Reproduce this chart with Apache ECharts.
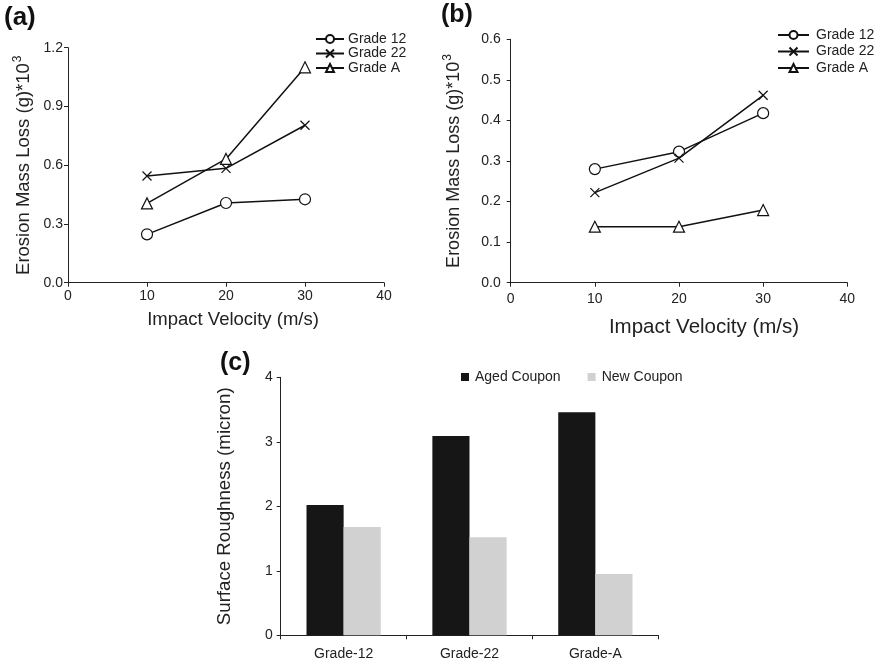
<!DOCTYPE html>
<html>
<head>
<meta charset="utf-8">
<script src="https://cdn.jsdelivr.net/npm/echarts@6/dist/echarts.min.js"></script>
<style>html,body{margin:0;padding:0;background:#fff}#c{width:882px;height:664px}</style>
</head>
<body>
<div id="c"></div>
<script>
// ---- data ----
var velocities = [10, 20, 30];
var seriesNames = ['Grade 12', 'Grade 22', 'Grade A'];
var lossA_grade12 = [0.247, 0.407, 0.426];
var lossA_grade22 = [0.545, 0.584, 0.804];
var lossA_gradeA = [0.405, 0.632, 1.10];
var lossB_grade12 = [0.280, 0.323, 0.418];
var lossB_grade22 = [0.222, 0.307, 0.462];
var lossB_gradeA = [0.138, 0.138, 0.179];
var couponCategories = ['Grade-12', 'Grade-22', 'Grade-A'];
var agedCoupon = [2.02, 3.09, 3.46];
var newCoupon = [1.68, 1.52, 0.95];
var barNames = ['Aged Coupon', 'New Coupon'];

var FONT = '"Liberation Sans", Arial, Helvetica, sans-serif';
var TXT = '#222';
var AX = '#222';

function pairs(xs, ys) { return xs.map(function (x, i) { return [x, ys[i]]; }); }

var symbols = {
  'Grade 12': { symbol: 'circle', size: 11 },
  'Grade 22': { symbol: 'path://M0,0L10,10M0,10L10,0', size: 9 },
  'Grade A': { symbol: 'triangle', size: 11 }
};

function lineSeries(name, data, idx) {
  return {
    type: 'line', name: name, xAxisIndex: idx, yAxisIndex: idx,
    data: data,
    symbol: symbols[name].symbol, symbolSize: symbols[name].size,
    showAllSymbol: true,
    lineStyle: { color: '#111', width: 1.5 },
    itemStyle: { color: '#fff', borderColor: '#111', borderWidth: 1.2 },
    emphasis: { disabled: true },
    animation: false, z: 3
  };
}

function valueXAxis(idx, nameSize, nameGap, padLeft, labelMargin) {
  return {
    type: 'value', gridIndex: idx, min: 0, max: 40, interval: 10,
    name: 'Impact Velocity (m/s)', nameLocation: 'middle', nameGap: nameGap,
    nameTextStyle: { fontSize: nameSize, color: TXT, fontFamily: FONT, padding: [0, 0, 0, padLeft] },
    axisLine: { show: true, lineStyle: { color: AX, width: 1 } },
    axisTick: { show: true, inside: false, length: 4, lineStyle: { color: AX } },
    axisLabel: { fontSize: 14, color: TXT, fontFamily: FONT, margin: labelMargin },
    splitLine: { show: false }
  };
}

function valueYAxis(idx, max, interval, nameSize, nameGap, labelMargin) {
  return {
    type: 'value', gridIndex: idx, min: 0, max: max, interval: interval,
    name: '{m|Erosion Mass Loss (g)*10}{s|3}', nameLocation: 'middle', nameGap: nameGap,
    nameTextStyle: {
      color: TXT, fontFamily: FONT,
      rich: {
        m: { fontSize: nameSize, color: TXT, fontFamily: FONT, verticalAlign: 'bottom' },
        s: { fontSize: 12, color: TXT, fontFamily: FONT, verticalAlign: 'bottom', padding: [0, 0, 9, 1] }
      }
    },
    axisLine: { show: true, lineStyle: { color: AX, width: 1 } },
    axisTick: { show: true, inside: false, length: 4, lineStyle: { color: AX } },
    axisLabel: { fontSize: 14, color: TXT, fontFamily: FONT, margin: labelMargin,
      formatter: function (v) { return v.toFixed(1); } },
    splitLine: { show: false }
  };
}

var option = {
  backgroundColor: '#fff',
  animation: false,
  textStyle: { fontFamily: FONT },
  grid: [
    { left: 68, top: 47.7, width: 316, height: 235 },
    { left: 510.7, top: 39.3, width: 336.6, height: 243.4 },
    { left: 280.7, top: 377.3, width: 377.6, height: 258 }
  ],
  xAxis: [
    valueXAxis(0, 18.5, 28, 14, 6),
    valueXAxis(1, 20.5, 34, 50, 9),
    {
      type: 'category', gridIndex: 2, data: couponCategories,
      axisLine: { show: true, lineStyle: { color: AX, width: 1 } },
      axisTick: { show: true, inside: false, length: 4, alignWithLabel: false, lineStyle: { color: AX } },
      axisLabel: { fontSize: 14, color: TXT, fontFamily: FONT, margin: 12 },
      splitLine: { show: false }
    }
  ],
  yAxis: [
    valueYAxis(0, 1.2, 0.3, 18.5, 35, 5),
    valueYAxis(1, 0.6, 0.1, 18, 48, 10),
    {
      type: 'value', gridIndex: 2, min: 0, max: 4, interval: 1,
      name: 'Surface Roughness (micron)', nameLocation: 'middle', nameGap: 46,
      nameTextStyle: { fontSize: 18.7, color: TXT, fontFamily: FONT },
      axisLine: { show: true, lineStyle: { color: AX, width: 1 } },
      axisTick: { show: true, inside: false, length: 4, lineStyle: { color: AX } },
      axisLabel: { fontSize: 14, color: TXT, fontFamily: FONT, margin: 8 },
      splitLine: { show: false }
    }
  ],
  legend: [
    {
      orient: 'vertical', left: 315, top: 32, padding: 0, itemWidth: 28, itemHeight: 10, itemGap: 0.5,
      data: seriesNames, selectedMode: false,
      textStyle: { fontSize: 14, lineHeight: 12, color: TXT, fontFamily: FONT, padding: [0, 0, 0, -1] }
    },
    {
      orient: 'vertical', left: 777, top: 28, padding: 0, itemWidth: 31, itemHeight: 10, itemGap: 2.5,
      data: seriesNames, selectedMode: false,
      textStyle: { fontSize: 14, lineHeight: 12, color: TXT, fontFamily: FONT, padding: [0, 0, 0, 2] }
    },
    {
      orient: 'horizontal', left: 461, top: 370, padding: 0, itemWidth: 8, itemHeight: 8, itemGap: 27,
      icon: 'rect', data: barNames, selectedMode: false,
      textStyle: { fontSize: 14, lineHeight: 14, color: TXT, fontFamily: FONT, padding: [0, 0, 0, 1] }
    }
  ],
  series: [
    lineSeries('Grade 12', pairs(velocities, lossA_grade12), 0),
    lineSeries('Grade 22', pairs(velocities, lossA_grade22), 0),
    lineSeries('Grade A', pairs(velocities, lossA_gradeA), 0),
    lineSeries('Grade 12', pairs(velocities, lossB_grade12), 1),
    lineSeries('Grade 22', pairs(velocities, lossB_grade22), 1),
    lineSeries('Grade A', pairs(velocities, lossB_gradeA), 1),
    {
      type: 'bar', name: 'Aged Coupon', xAxisIndex: 2, yAxisIndex: 2, data: agedCoupon,
      barGap: '0%', barCategoryGap: '41%',
      itemStyle: { color: '#161616' }, emphasis: { disabled: true }
    },
    {
      type: 'bar', name: 'New Coupon', xAxisIndex: 2, yAxisIndex: 2, data: newCoupon,
      barGap: '0%', barCategoryGap: '41%',
      itemStyle: { color: '#d0d1d0' }, emphasis: { disabled: true }
    }
  ],
  graphic: [
    { type: 'text', left: 4, top: 5, style: { text: '(a)', font: 'bold 26px ' + FONT, fill: '#111' } },
    { type: 'text', left: 441, top: 3, style: { text: '(b)', font: 'bold 25px ' + FONT, fill: '#111' } },
    { type: 'text', left: 220, top: 351, style: { text: '(c)', font: 'bold 25px ' + FONT, fill: '#111' } }
  ]
};

var chart = echarts.init(document.getElementById('c'), null, { renderer: 'canvas' });
chart.setOption(option);
</script>
</body>
</html>
